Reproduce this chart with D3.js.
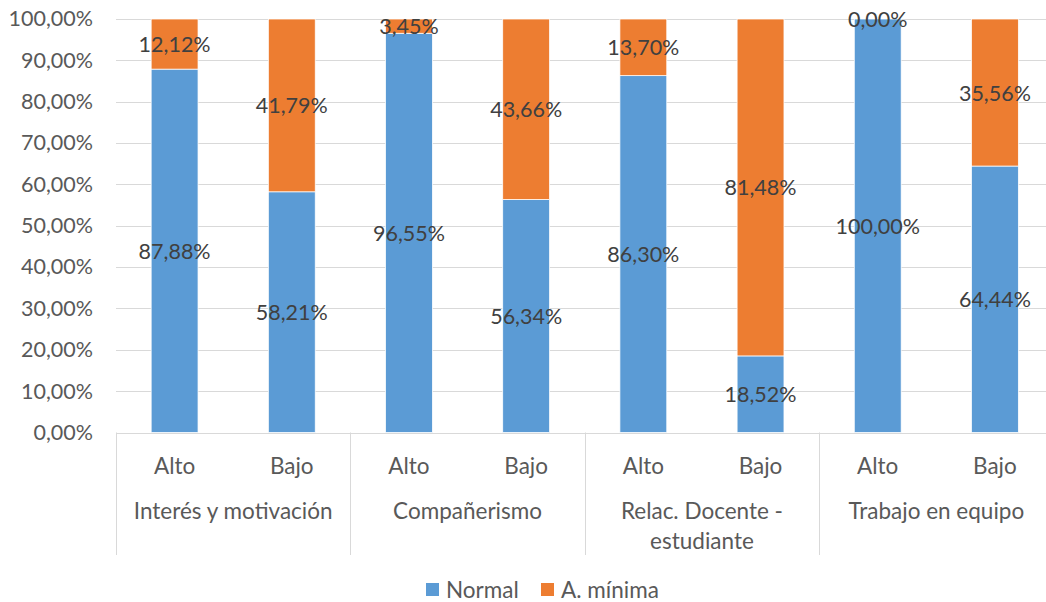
<!DOCTYPE html>
<html><head><meta charset="utf-8">
<script src="https://cdn.jsdelivr.net/npm/d3@7/dist/d3.min.js"></script>
<style>body{margin:0;background:#fff}svg{display:block}text{font-family:Lato,"Open Sans",sans-serif}</style>
</head><body>
<svg id="c" width="1046" height="602"></svg>
<script>
const groups = ["Interés y motivación", "Compañerismo", "Relac. Docente - estudiante", "Trabajo en equipo"];
const levels = ["Alto", "Bajo"];
const normal = [87.88, 58.21, 96.55, 56.34, 86.30, 18.52, 100.00, 64.44];
const minima = [12.12, 41.79, 3.45, 43.66, 13.70, 81.48, 0.00, 35.56];
const seriesNames = ["Normal", "A. mínima"];
const colors = ["#5B9BD5", "#ED7D31"];
const yTicks = [0,10,20,30,40,50,60,70,80,90,100];

const svg = d3.select("#c");
const x0 = 116, x1 = 1053.5, yTop = 19, yBot = 432.5;
const numSize = "21.5px", txtSize = "22.5px";
const cats = [];
groups.forEach((g,gi)=>levels.forEach((l,li)=>cats.push({g,gi,l,key:gi+"-"+l,i:gi*2+li})));
const x = d3.scaleBand().domain(cats.map(c=>c.key)).range([x0,x1]).paddingInner(0.6).paddingOuter(0.3);
const xg = d3.scaleBand().domain(groups).range([x0,x1]);
const y = d3.scaleLinear().domain([0,100]).range([yBot,yTop]);
const fmt = v => v.toFixed(2).replace(".", ",") + "%";

// gridlines
svg.append("g").selectAll("line").data(yTicks).join("line")
  .attr("x1", x0).attr("x2", 1046).attr("y1", d=>Math.round(y(d))+0.5).attr("y2", d=>Math.round(y(d))+0.5)
  .attr("stroke", "#d9d9d9").attr("stroke-width", 1);

// y axis labels
const yAxis = d3.axisLeft(y).tickValues(yTicks).tickFormat(fmt).tickSize(0).tickPadding(0);
const ya = svg.append("g").attr("transform", "translate(93,0)").call(yAxis);
ya.select(".domain").remove();
ya.selectAll("text").attr("fill","#595959").style("font-size",numSize).style("font-family","Lato,'Open Sans',sans-serif");

// stacked bars
const rows = cats.map(c=>({key:c.key, Normal:normal[c.i], "A. mínima":minima[c.i]}));
const stack = d3.stack().keys(seriesNames)(rows);
stack.forEach((s,si)=>{
  svg.append("g").selectAll("rect").data(s).join("rect")
    .attr("x", d=>x(d.data.key)).attr("width", x.bandwidth())
    .attr("y", d=>y(d[1])).attr("height", d=>y(d[0])-y(d[1]))
    .attr("fill", colors[si]).attr("stroke","#fff").attr("stroke-width",0.75);
});
// data labels
stack.forEach((s,si)=>{
  svg.append("g").selectAll("text").data(s).join("text")
    .attr("x", d=>x(d.data.key)+x.bandwidth()/2).attr("y", d=>y((d[0]+d[1])/2))
    .attr("text-anchor","middle").attr("dominant-baseline","central")
    .attr("fill","#404040").style("font-size",numSize)
    .text(d=>fmt(d[1]-d[0]));
});

// x axis line
svg.append("line").attr("x1",x0).attr("x2",1046).attr("y1",Math.round(yBot)+0.5).attr("y2",Math.round(yBot)+0.5).attr("stroke","#d9d9d9");
// separators
svg.append("g").selectAll("line").data(groups.map(g=>xg(g)).concat([x1])).join("line")
  .attr("x1",d=>Math.round(d)+0.5).attr("x2",d=>Math.round(d)+0.5).attr("y1",yBot).attr("y2",555)
  .attr("stroke","#d9d9d9");
// level labels
svg.append("g").selectAll("text").data(cats).join("text")
  .attr("x", d=>x(d.key)+x.bandwidth()/2).attr("y",465).attr("text-anchor","middle").attr("dominant-baseline","central")
  .attr("fill","#595959").style("font-size",txtSize).text(d=>d.l);
// group labels
const gl = svg.append("g").selectAll("text").data(groups).join("text")
  .attr("x", d=>xg(d)+xg.bandwidth()/2).attr("y",510).attr("text-anchor","middle").attr("dominant-baseline","central")
  .attr("fill","#595959").style("font-size",txtSize);
gl.each(function(d){
  const t = d3.select(this);
  const lines = d === "Relac. Docente - estudiante" ? ["Relac. Docente -", "estudiante"] : [d];
  lines.forEach((ln,i)=>t.append("tspan").attr("x", xg(d)+xg.bandwidth()/2).attr("dy", i?30:0).text(ln));
});

// legend
const leg = [{n:seriesNames[0],c:colors[0],x:426},{n:seriesNames[1],c:colors[1],x:541}];
const lg = svg.append("g").selectAll("g").data(leg).join("g").attr("transform",d=>`translate(${d.x},583)`);
lg.append("rect").attr("width",13).attr("height",13).attr("fill",d=>d.c);
lg.append("text").attr("x",20).attr("y",6).attr("dominant-baseline","central").attr("fill","#595959").style("font-size",txtSize).text(d=>d.n);
</script>
</body></html>
